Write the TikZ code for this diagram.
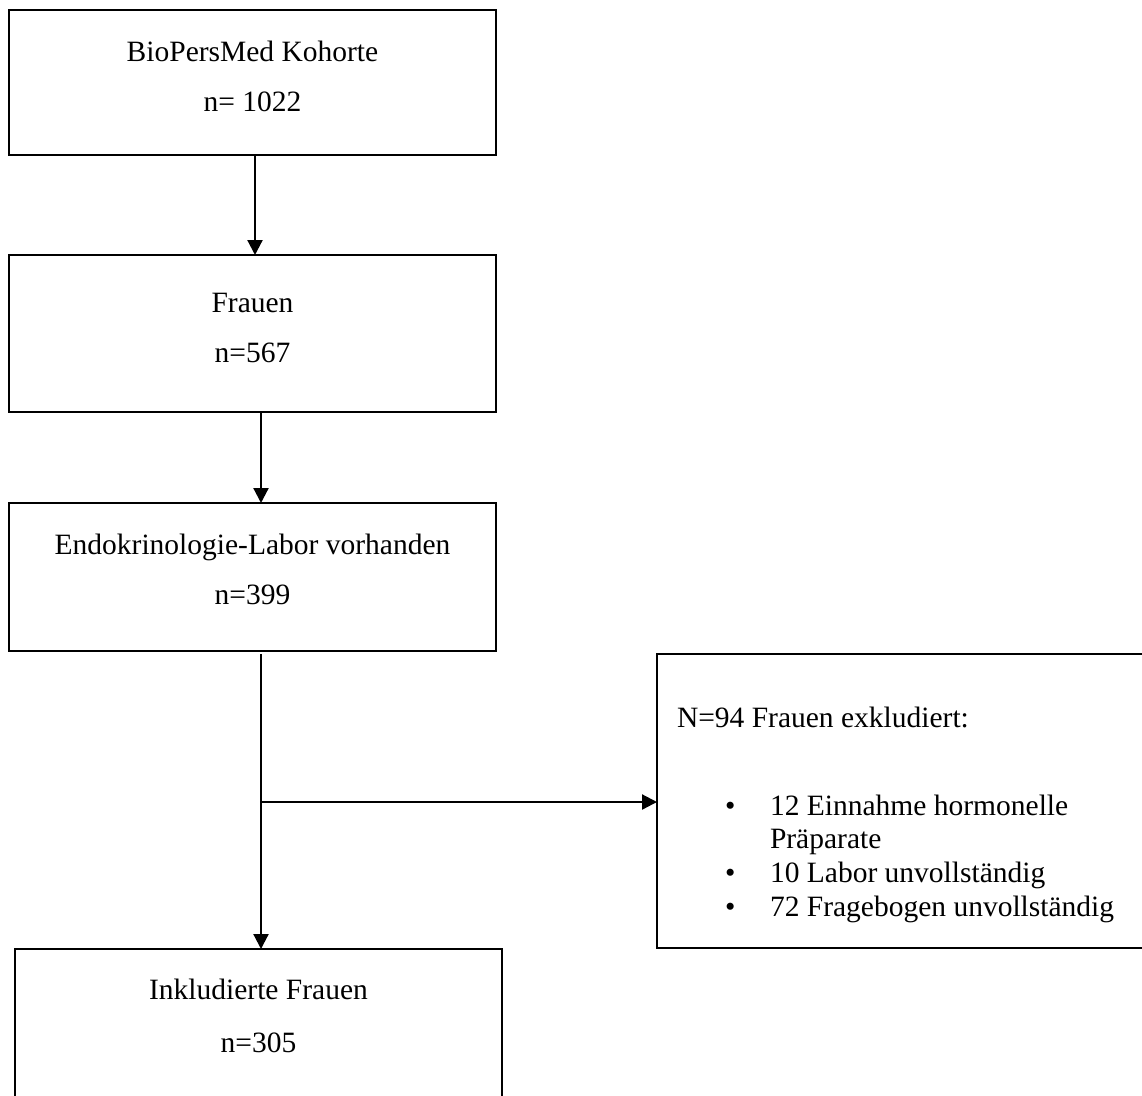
\documentclass[tikz,border=0pt]{standalone}
\usepackage{fontspec}
\setmainfont{Liberation Serif}
\usetikzlibrary{arrows.meta}
\begin{document}
\begin{tikzpicture}[x=1pt,y=-1pt,
  boxline/.style={draw=black,line width=2.6pt,inner sep=0pt,outer sep=0pt,fill=none},
  txt/.style={inner sep=0pt,outer sep=0pt,font=\fontsize{29.5}{34}\selectfont},
  conn/.style={line width=2.2pt,-{Triangle[length=15pt,width=15pt]}},
  plain/.style={line width=2.2pt}]
\clip (0,0) rectangle (1142,1095);
\fill[white] (0,0) rectangle (1142,1095);
% boxes
\node[boxline,minimum width=487pt,minimum height=145pt] (b1) at (252.5,82.5) {};
\node[boxline,minimum width=487pt,minimum height=157pt] (b2) at (252.5,333.5) {};
\node[boxline,minimum width=487pt,minimum height=148pt] (b3) at (252.5,577) {};
\node[boxline,minimum width=487pt,minimum height=200pt] (b4) at (258.5,1049) {};
\node[boxline,minimum width=520pt,minimum height=294pt] (side) at (917,801) {};
% texts
\node[txt,anchor=base] (t1a) at (252.5,61) {BioPersMed Kohorte};
\node[txt,anchor=base] (t1b) at (252.5,111) {n= 1022};
\node[txt,anchor=base] (t2a) at (252.5,312) {Frauen};
\node[txt,anchor=base] (t2b) at (252.5,362) {n=567};
\node[txt,anchor=base] (t3a) at (252.5,554) {Endokrinologie-Labor vorhanden};
\node[txt,anchor=base] (t3b) at (252.5,604) {n=399};
\node[txt,anchor=base] (t4a) at (258.5,999) {Inkludierte Frauen};
\node[txt,anchor=base] (t4b) at (258.5,1052) {n=305};
\node[txt,anchor=base west] (sa) at (677,727) {N=94 Frauen exkludiert:};
\node[txt,anchor=base west] (s1d) at (725,815) {•};
\node[txt,anchor=base west] (s1) at (770,815) {12 Einnahme hormonelle};
\node[txt,anchor=base west] (s1c) at (770,848) {Präparate};
\node[txt,anchor=base west] (s2d) at (725,882) {•};
\node[txt,anchor=base west] (s2) at (770,882) {10 Labor unvollständig};
\node[txt,anchor=base west] (s3d) at (725,916) {•};
\node[txt,anchor=base west] (s3) at (770,916) {72 Fragebogen unvollständig};
% connectors
\coordinate (j) at (261,802);
\draw[conn] ([xshift=2.5pt]b1.south) -- ([xshift=2.5pt]b2.north);
\draw[conn] ([xshift=8.5pt]b2.south) -- ([xshift=8.5pt]b3.north);
\draw[conn] ([yshift=-3pt]b3.south -| j) -- (b4.north -| j);
\draw[conn] (j) -- (side.west |- j);
\end{tikzpicture}
\end{document}
